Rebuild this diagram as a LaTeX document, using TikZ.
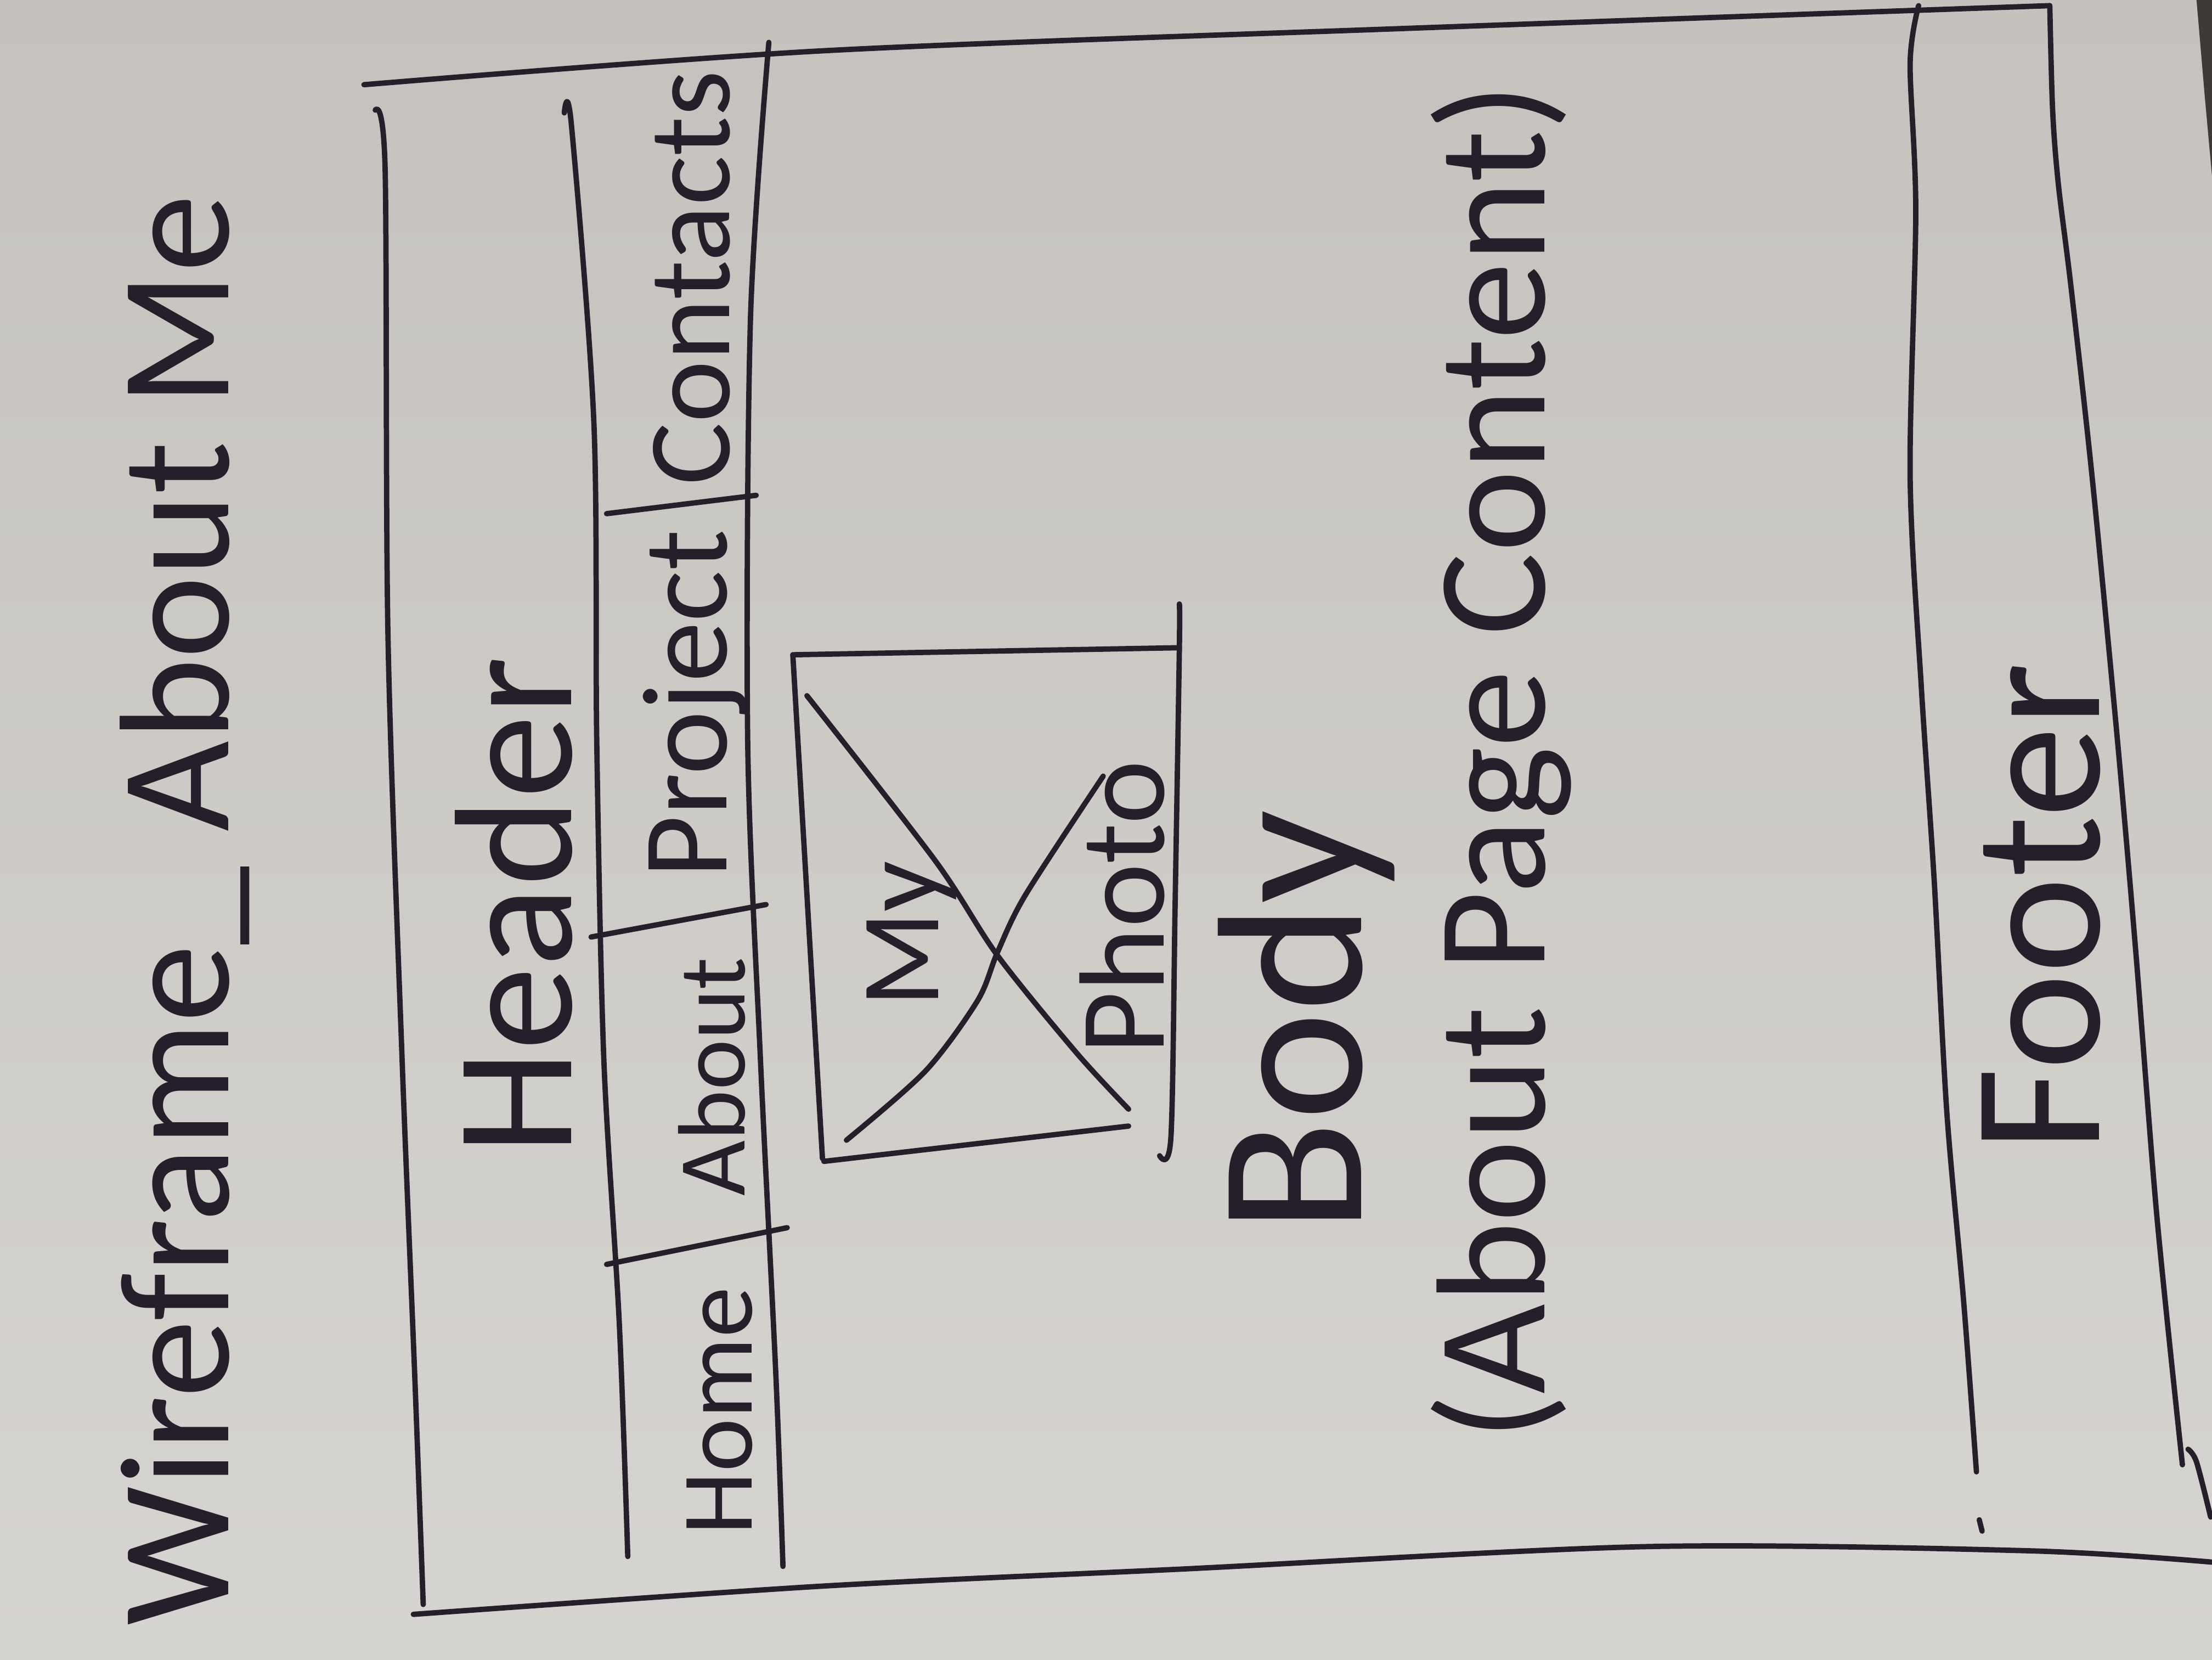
\documentclass[tikz,border=0pt]{standalone}
\usepackage{fontspec}
\setmainfont{Carlito}
\usepackage{tikz}
\usetikzlibrary{calc}

\definecolor{paper}{RGB}{197,194,189}
\definecolor{paperlight}{RGB}{214,212,208}
\definecolor{ink}{RGB}{38,30,42}
\definecolor{desk}{RGB}{62,58,54}

\tikzset{
  pen/.style={draw=ink, line width=1.1pt, line cap=round, line join=round},
  hand/.style={rotate=90, anchor=base, inner sep=0pt, text=ink,
               font=\fontsize{#1}{#1}\selectfont},
}

\begin{document}
\begin{tikzpicture}[x=0.010204cm, y=-0.010204cm]
    % the sheet (coordinates are pixels of the photo)
    \shade[top color=paper, bottom color=paperlight] (0,0) rectangle (1568,1176);
    \fill[desk] (1557,0) -- (1568,0) -- (1568,125) -- (1563,70) -- cycle;
    \useasboundingbox (0,0) rectangle (1568,1176);

    \node[hand=32.2] (title) at (162,645) {Wireframe\_ About Me};

    % page frame
    \draw[pen] plot[smooth] coordinates {(258,60) (583,36) (1000,20) (1453,4)};
    \draw[pen] plot[smooth] coordinates {(266,78) (273,120) (275,450) (285,750) (294,975) (300,1137)};
    \draw[pen] plot[smooth] coordinates {(293,1144) (583,1124) (836,1112) (1167,1096) (1439,1099) (1568,1107)};
    \draw[pen] plot[smooth] coordinates {(1453,4) (1455,78) (1459,130) (1468,203) (1483,338) (1501,525) (1514,675) (1529,863) (1547,1038)};
    \draw[pen] plot[smooth] coordinates {(1551,1027) (1557,1036) (1567,1075)};

    % header with menu
    \node[hand=34.5] (header) at (405,642) {Header};
    \draw[pen] plot[smooth] coordinates {(400,80) (405,88) (421,300) (423,525) (428,750) (439,938) (445,1103)};
    \draw[pen] plot[smooth] coordinates {(545,30) (532,225) (530,525) (539,750) (550,975) (555,1110)};
    \draw[pen] (430,896) -- (558,870);
    \draw[pen] (419,664) -- (543,641);
    \draw[pen] (430,364) -- (536,351);
    \node[hand=20.9] (home) at (533,1000) {Home};
    \node[hand=19.7] (about) at (528,763) {About};
    \node[hand=25] (project) at (515,499) {Project};
    \node[hand=24.2] (contacts) at (517,197) {Contacts};

    % photo placeholder
    \coordinate (ph-tl) at (572,493);
    \coordinate (ph-br) at (800,786);
    \coordinate (ph-bl) at (600,808);
    \coordinate (ph-tr) at (782,550);
    \draw[pen] (562,464) -- (836,459);
    \draw[pen] (562,464) -- (583,821);
    \draw[pen] (584,823) -- (800,798);
    \draw[pen] plot[smooth] coordinates {(836,428) (836,459) (833,640) (830,806) (822,819)};
    \draw[pen] plot[smooth] coordinates {(ph-tl) (663,610) (707,677) (763,746) (ph-br)};
    \draw[pen] plot[smooth] coordinates {(ph-bl) (656,759) (693,709) (707,675) (727,634) (ph-tr)};
    \node[hand=23] (my) at (665,662) {My};
    \node[hand=25] (photo) at (825,643) {Photo};

    % body
    \node[hand=42.5] (body) at (965,724) {Body};
    \node[hand=32] (content) at (1095,540) {(About Page Content)};

    % footer
    \draw[pen] plot[smooth] coordinates {(1360,4) (1354,45) (1358,150) (1354,338) (1362,488) (1371,623) (1380,788) (1392,923) (1401,1043)};
    \draw[pen] (1403,1077) -- (1405,1085);
    \node[hand=37.7] (footer) at (1488,643) {Footer};
\end{tikzpicture}
\end{document}
